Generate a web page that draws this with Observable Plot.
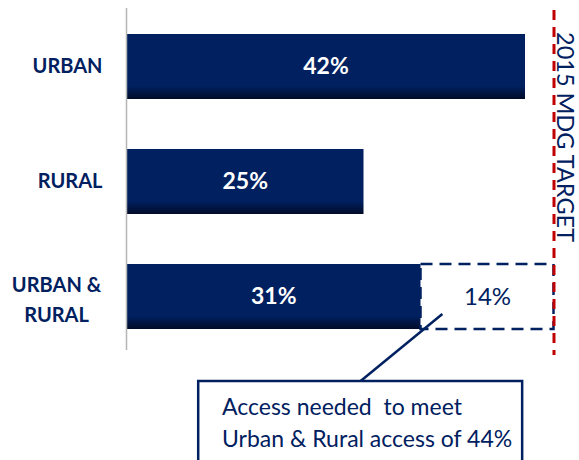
<!DOCTYPE html>
<html><head><meta charset="utf-8">
<script src="https://cdn.jsdelivr.net/npm/d3@7"></script>
<script src="https://cdn.jsdelivr.net/npm/@observablehq/plot@0.6"></script>
<style>body{margin:0;background:#fff;font-family:Lato,sans-serif}</style>
</head><body><div id="chart"></div>
<script>
const categories = ["URBAN", "RURAL", "URBAN &\nRURAL"];
const access = [42, 25, 31];
const gapCategory = "URBAN &\nRURAL";
const gapBase = 31;
const gapValue = 14;
const targetLabel = "2015 MDG TARGET";
const calloutLines = ["Access needed  to meet", "Urban & Rural access of 44%"];
const calloutSpan = [7.6, 41.7];
const calloutTextX = [10.1];
const leaderX = [33.3, 24.7];

const navy = "#002060";
const bars = categories.map((c, i) => ({category: c, value: access[i]}));
const gap = [{category: gapCategory, x1: gapBase, x2: gapBase + gapValue, value: gapValue}];
const target = gapBase + gapValue;
const single = categories.filter(c => !c.includes("\n"));
const multi = categories.filter(c => c.includes("\n"));

const chart = Plot.plot({
  width: 579, height: 460,
  marginLeft: 126, marginRight: 25.5, marginTop: 34, marginBottom: 131,
  style: {fontFamily: "Lato, sans-serif", background: "#fff"},
  x: {domain: [0, 45], axis: null},
  y: {domain: categories, paddingInner: 0.435, paddingOuter: 0, axis: null},
  marks: [
    Plot.barX(bars, {x: "value", y: "category", fill: "url(#barGrad)"}),
    Plot.barX(gap, {x1: "x1", x2: "x2", y: "category", fill: "none", stroke: navy, strokeWidth: 2.5, strokeDasharray: "12,7"}),
    Plot.ruleX([0], {stroke: "#b5b5b5", strokeWidth: 1.5, insetTop: -26, insetBottom: -21}),
    Plot.ruleX([target], {stroke: "#c00000", strokeWidth: 3, strokeDasharray: "10,7", insetTop: -24, insetBottom: -26}),
    Plot.text(bars, {x: d => d.value / 2, y: "category", text: d => d.value + "%", fill: "white", fontWeight: "bold", fontSize: 23}),
    Plot.text(gap, {x: d => (d.x1 + d.x2) / 2, y: "category", text: d => d.value + "%", fill: navy, fontSize: 24}),
    Plot.text(single, {y: d => d, text: d => d, frameAnchor: "left", textAnchor: "end", dx: -24, fontSize: 20, fontWeight: "bold", fill: navy}),
    Plot.text(multi, {y: d => d, text: d => d, frameAnchor: "left", textAnchor: "middle", dx: -70, fontSize: 20, fontWeight: "bold", fill: navy, lineHeight: 1.5})
  ]
});

const svg = d3.select(chart);
const defs = svg.insert("defs", ":first-child");
const grad = defs.append("linearGradient").attr("id", "barGrad").attr("x1", 0).attr("y1", 0).attr("x2", 0).attr("y2", 1);
grad.append("stop").attr("offset", "0").attr("stop-color", navy);
grad.append("stop").attr("offset", "0.8").attr("stop-color", navy);
grad.append("stop").attr("offset", "1").attr("stop-color", "#000b28");

const xs = chart.scale("x").apply;
const ys = chart.scale("y");
const topBand = ys.apply(categories[0]);
const bandTop = ys.apply(gapCategory);
const bandBottom = bandTop + ys.bandwidth;
const boxTop = bandBottom + 52;
const ann = svg.append("g").attr("text-anchor", "start").attr("font-family", "Lato, sans-serif");

ann.append("text")
  .attr("transform", `translate(${xs(target) + 12},${topBand - 2}) rotate(90)`)
  .attr("dominant-baseline", "central")
  .attr("fill", navy).attr("font-size", 23.5).text(targetLabel);

ann.append("line")
  .attr("x1", xs(leaderX[0])).attr("y1", bandTop + 50)
  .attr("x2", xs(leaderX[1])).attr("y2", boxTop)
  .attr("stroke", navy).attr("stroke-width", 2.5);
ann.append("rect")
  .attr("x", xs(calloutSpan[0])).attr("y", boxTop)
  .attr("width", xs(calloutSpan[1]) - xs(calloutSpan[0])).attr("height", 120)
  .attr("fill", "white").attr("stroke", navy).attr("stroke-width", 2.5);
calloutLines.forEach((t, i) => {
  ann.append("text").attr("x", xs(calloutTextX[0])).attr("y", boxTop + 34 + i * 32)
    .attr("fill", navy).attr("font-size", 23).text(t);
});
document.getElementById("chart").appendChild(chart);
</script></body></html>
